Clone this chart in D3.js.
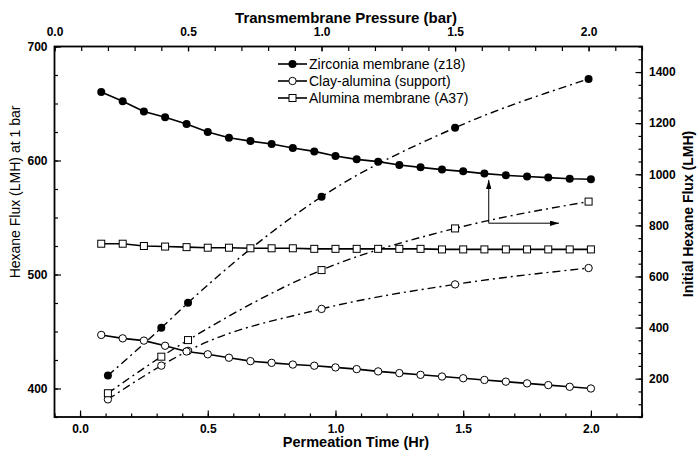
<!DOCTYPE html>
<html>
<head>
<meta charset="utf-8">
<script src="https://cdn.jsdelivr.net/npm/d3@7"></script>
<style>
  html, body { margin: 0; padding: 0; background: #fff; }
  svg { display: block; font-family: "Liberation Sans", Arial, Helvetica, sans-serif; }
</style>
</head>
<body>
<svg id="chart" width="697" height="450"></svg>
<script>
// Permeation time (hr), one reading every 5 minutes
const permeationTime = [0.083, 0.167, 0.25, 0.333, 0.417, 0.5, 0.583, 0.667, 0.75, 0.833, 0.917, 1.0,
                        1.083, 1.167, 1.25, 1.333, 1.417, 1.5, 1.583, 1.667, 1.75, 1.833, 1.917, 2.0];
// Hexane flux at 1 bar (LMH) over time
const zirconiaFlux = [660, 652, 643, 638, 632, 625, 620, 617, 614.5, 611, 608, 604,
                      601, 599, 596, 594, 592, 590.5, 588.5, 587, 586, 585, 584, 583.5];
const clayFlux     = [447, 444, 442, 437.5, 432.5, 430, 427, 424, 422.5, 421, 420, 418.5,
                      417, 415, 413.5, 412, 410.5, 409, 407.5, 406, 404.5, 403, 401.5, 400];
const aluminaFlux  = [527, 527, 525, 524.5, 524, 523.5, 523.5, 523, 523, 523, 522.5, 522.5,
                      522.5, 522.5, 522.5, 522.5, 522, 522, 522, 522, 522, 522, 522, 522];

// Transmembrane pressure (bar) and initial hexane flux (LMH)
const pressure        = [0.2, 0.4, 0.5, 1.0, 1.5, 2.0];
const zirconiaInitial = [212, 399, 497, 912, 1182, 1373];
const clayInitial     = [119, 251, 309, 473, 569, 633];
const aluminaInitial  = [143, 286, 351, 625, 788, 893];

// Tick values
const timeTicks     = [0.0, 0.5, 1.0, 1.5, 2.0];
const pressureTicks = [0.0, 0.5, 1.0, 1.5, 2.0];
const leftTicks     = [400, 500, 600, 700];
const rightTicks    = [200, 400, 600, 800, 1000, 1200, 1400];

const seriesNames = ["Zirconia membrane (z18)", "Clay-alumina (support)", "Alumina membrane (A37)"];

const svg = d3.select("#chart");
const L = 54.5, R = 642, T = 46.5, B = 417;

const xTime  = d3.scaleLinear([-0.1, 2.2], [L, R]);
const xPress = d3.scaleLinear([0, 2.2], [L, R]);
const yLeft  = d3.scaleLinear([375, 700], [B, T]);
const yRight = d3.scaleLinear([50, 1500], [B, T]);

const fmt1 = d3.format(".1f");
const tickFont = g => g.selectAll("text")
  .attr("font-family", "Liberation Sans, Arial, sans-serif")
  .attr("font-size", 12).attr("font-weight", "bold").attr("fill", "#000");
const clean = g => { g.select(".domain").remove(); g.selectAll("line").attr("stroke", "#000").attr("stroke-width", 1.2); };

function range(a, b, step) { const out = []; for (let v = a; v <= b + 1e-9; v += step) out.push(+v.toFixed(4)); return out; }

// Bottom axis: permeation time
svg.append("g").attr("transform", `translate(0,${B})`)
  .call(d3.axisBottom(xTime).tickValues(range(-0.1, 2.2, 0.1)).tickSize(-3.5).tickFormat(""))
  .call(clean);
svg.append("g").attr("transform", `translate(0,${B})`)
  .call(d3.axisBottom(xTime).tickValues(timeTicks).tickSize(-6.5).tickPadding(7).tickFormat(fmt1))
  .call(clean).call(tickFont);

// Top axis: transmembrane pressure
svg.append("g").attr("transform", `translate(0,${T})`)
  .call(d3.axisTop(xPress).tickValues(range(0, 2.2, 0.1)).tickSize(-4.5).tickFormat(""))
  .call(clean);
svg.append("g").attr("transform", `translate(0,${T})`)
  .call(d3.axisTop(xPress).tickValues(pressureTicks).tickSize(-5).tickPadding(11).tickFormat(fmt1))
  .call(clean).call(tickFont);

// Left axis: flux at 1 bar
svg.append("g").attr("transform", `translate(${L},0)`)
  .call(d3.axisLeft(yLeft).tickValues(range(375, 700, 25)).tickSize(-3.5).tickFormat(""))
  .call(clean);
svg.append("g").attr("transform", `translate(${L},0)`)
  .call(d3.axisLeft(yLeft).tickValues(leftTicks).tickSize(-6.5).tickPadding(7).tickFormat(d3.format("d")))
  .call(clean).call(tickFont);

// Right axis: initial flux
svg.append("g").attr("transform", `translate(${R},0)`)
  .call(d3.axisRight(yRight).tickValues(range(50, 1500, 50)).tickSize(-3.5).tickFormat(""))
  .call(clean);
svg.append("g").attr("transform", `translate(${R},0)`)
  .call(d3.axisRight(yRight).tickValues(rightTicks).tickSize(-6.5).tickPadding(7).tickFormat(d3.format("d")))
  .call(clean).call(tickFont);

// Frame
svg.append("rect").attr("x", L).attr("y", T).attr("width", R - L).attr("height", B - T)
  .attr("fill", "none").attr("stroke", "#000").attr("stroke-width", 1.8);

// Axis titles
svg.append("text").attr("x", 346).attr("y", 22.5).attr("text-anchor", "middle")
  .attr("font-size", 15).attr("font-weight", "bold").text("Transmembrane Pressure (bar)");
svg.append("text").attr("x", 356).attr("y", 447.3).attr("text-anchor", "middle")
  .attr("font-size", 14.5).attr("font-weight", "bold").text("Permeation Time (Hr)");
svg.append("text").attr("transform", "translate(20,192) rotate(-90)").attr("text-anchor", "middle")
  .attr("font-size", 14).text("Hexane Flux (LMH) at 1 bar");
svg.append("text").attr("transform", "translate(693,214) rotate(-90)").attr("text-anchor", "middle")
  .attr("font-size", 14).attr("font-weight", "bold").text("Initial Hexane Flux (LMH)");

// Marker painters
function drawMarker(g, kind) {
  if (kind === "filled") g.append("circle").attr("r", 4).attr("fill", "#000");
  else if (kind === "circle") g.append("circle").attr("r", 3.7).attr("fill", "#fff").attr("stroke", "#000").attr("stroke-width", 1);
  else g.append("rect").attr("x", -3.5).attr("y", -3.5).attr("width", 7).attr("height", 7)
        .attr("fill", "#fff").attr("stroke", "#000").attr("stroke-width", 1);
}

const plot = svg.append("g");

// Initial flux vs pressure: dash-dot curves
const initialSets = [[zirconiaInitial, "filled"], [clayInitial, "circle"], [aluminaInitial, "square"]];
const curveLine = d3.line().x(d => xPress(d[0])).y(d => yRight(d[1])).curve(d3.curveMonotoneX);
initialSets.forEach(([vals, kind]) => {
  const pts = pressure.map((p, i) => [p, vals[i]]);
  plot.append("path").attr("d", curveLine(pts)).attr("fill", "none").attr("stroke", "#000")
    .attr("stroke-width", 1.4).attr("stroke-dasharray", "8,4,2,4");
});

// Flux at 1 bar vs time: solid lines
const timeSets = [[zirconiaFlux, "filled"], [clayFlux, "circle"], [aluminaFlux, "square"]];
const solidLine = d3.line().x(d => xTime(d[0])).y(d => yLeft(d[1]));
timeSets.forEach(([vals, kind]) => {
  const pts = permeationTime.map((t, i) => [t, vals[i]]);
  plot.append("path").attr("d", solidLine(pts)).attr("fill", "none").attr("stroke", "#000").attr("stroke-width", 1.6);
});

// Markers
initialSets.forEach(([vals, kind]) => {
  pressure.forEach((p, i) => {
    const g = plot.append("g").attr("transform", `translate(${xPress(p)},${yRight(vals[i])})`);
    drawMarker(g, kind);
  });
});
timeSets.forEach(([vals, kind]) => {
  permeationTime.forEach((t, i) => {
    const g = plot.append("g").attr("transform", `translate(${xTime(t)},${yLeft(vals[i])})`);
    drawMarker(g, kind);
  });
});

// Arrows pointing to the two axis systems
const defs = svg.append("defs");
defs.append("marker").attr("id", "head").attr("viewBox", "0 0 10 6").attr("refX", 10).attr("refY", 3)
  .attr("markerWidth", 9).attr("markerHeight", 5.4).attr("markerUnits", "userSpaceOnUse").attr("orient", "auto")
  .append("path").attr("d", "M0,0 L10,3 L0,6 Z").attr("fill", "#000");
const ax = xTime(1.6), ay = yLeft(545);
plot.append("line").attr("x1", ax).attr("y1", ay).attr("x2", ax).attr("y2", yLeft(583))
  .attr("stroke", "#000").attr("stroke-width", 1).attr("marker-end", "url(#head)");
plot.append("line").attr("x1", ax).attr("y1", ay).attr("x2", xTime(1.875)).attr("y2", ay)
  .attr("stroke", "#000").attr("stroke-width", 1).attr("marker-end", "url(#head)");

// Legend
const legend = svg.append("g");
const kinds = ["filled", "circle", "square"];
const rowY = [64, 81, 98];
seriesNames.forEach((name, i) => {
  const row = legend.append("g").attr("transform", `translate(0,${rowY[i]})`);
  row.append("line").attr("x1", 278).attr("x2", 307).attr("y1", 0).attr("y2", 0).attr("stroke", "#000").attr("stroke-width", 1.6);
  drawMarker(row.append("g").attr("transform", "translate(292.5,0)"), kinds[i]);
  row.append("text").attr("x", 309).attr("y", 5).attr("font-size", 14).text(name);
});
</script>
</body>
</html>
